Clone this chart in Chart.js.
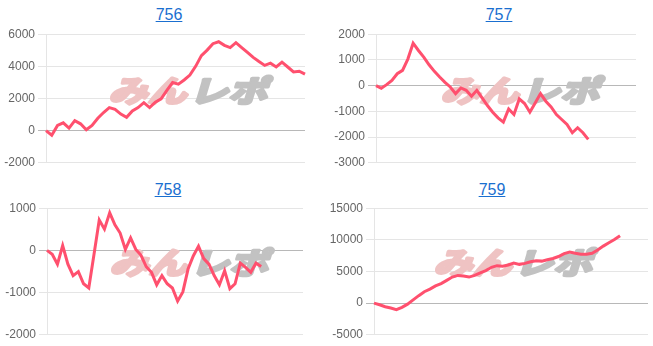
<!DOCTYPE html>
<html>
<head>
<meta charset="utf-8">
<script src="https://cdn.jsdelivr.net/npm/chart.js@4/dist/chart.umd.min.js"></script>
<style>
  body { margin: 0; background: #fff; width: 653px; height: 346px; overflow: hidden; position: relative; font-family: Arial, "Liberation Sans", sans-serif; }
  .ttl { position: absolute; width: 100px; text-align: center; font-size: 16px; }
  .ttl a { color: #1a6fd0; text-decoration: underline; }
  canvas { position: absolute; }
</style>
</head>
<body>
<div class="ttl" style="left:119px; top:6px"><a href="#">756</a></div>
<div class="ttl" style="left:449px; top:6px"><a href="#">757</a></div>
<div class="ttl" style="left:118px; top:181px"><a href="#">758</a></div>
<div class="ttl" style="left:442px; top:181px"><a href="#">759</a></div>
<canvas id="c756" width="315" height="149" style="left:0px; top:24px"></canvas>
<canvas id="c757" width="316" height="149" style="left:330px; top:24px"></canvas>
<canvas id="c758" width="312" height="147" style="left:1px; top:198px"></canvas>
<canvas id="c759" width="326" height="147" style="left:327px; top:198px"></canvas>
<script>
// 差枚推移 (hidden x axis = game count)
const values756 = [0, -280, 320, 485, 160, 625, 425, 60, 320, 770, 1130, 1435, 1330, 1030, 830, 1230, 1435, 1740, 1435, 1775, 1980, 2500, 2990, 2890, 3150, 3455, 4000, 4665, 5010, 5410, 5530, 5310, 5170, 5470, 5170, 4865, 4560, 4300, 4060, 4200, 3960, 4260, 3960, 3655, 3700, 3515];
const values757 = [0, -103, 39, 206, 464, 593, 1032, 1650, 1367, 1109, 812, 555, 335, 129, -52, -310, -90, -181, -413, -181, -477, -774, -1032, -1251, -1419, -903, -1122, -516, -697, -1032, -671, -310, -606, -826, -1122, -1316, -1509, -1832, -1638, -1832, -2090];
const values758 = [0, -93, -326, 116, -326, -597, -504, -791, -891, -93, 721, 504, 891, 605, 411, 23, 295, 23, -116, -388, -519, -814, -597, -791, -891, -1202, -984, -442, -132, 101, -194, -326, -597, -814, -481, -907, -791, -302, -403, -519, -302, -380];
const values759 = [0, -258, -567, -773, -1030, -670, -155, 515, 1185, 1800, 2215, 2730, 3090, 3600, 4120, 4380, 4275, 4120, 4380, 4790, 5150, 5665, 5920, 5820, 6025, 6335, 6130, 6280, 6540, 6695, 6640, 6850, 7055, 7365, 7830, 8085, 7880, 7725, 7725, 7880, 8395, 9010, 9530, 10040, 10660];

// number of x categories per chart
const count756 = 46, count757 = 50, count758 = 50, count759 = 50;

// y tick ranges [min, max, step]
const ticks756 = [-2000, 6000, 2000];
const ticks757 = [-3000, 2000, 1000];
const ticks758 = [-2000, 1000, 1000];
const ticks759 = [-5000, 15000, 5000];

function makeLabels(n) {
  return Array.from({ length: n }, (_, i) => i + 1);
}

const watermark = {
  id: 'watermark',
  beforeDatasetsDraw(chart, args, opts) {
    const ctx = chart.ctx;
    ctx.save();
    ctx.translate(opts.x, opts.y);
    ctx.transform(1, 0, -0.3, 1, 0, 0);
    ctx.scale(1.3, 1);
    ctx.font = 'bold 30px "Noto Sans CJK JP"';
    ctx.textBaseline = 'middle';
    ctx.lineWidth = 3;
    ctx.lineJoin = 'round';
    ctx.fillStyle = ctx.strokeStyle = '#efc3c3';
    ctx.strokeText('みん', 0, 0);
    ctx.fillText('みん', 0, 0);
    const w = ctx.measureText('みん').width;
    ctx.fillStyle = ctx.strokeStyle = '#c2c2c2';
    ctx.strokeText('レポ', w + 2, 0);
    ctx.fillText('レポ', w + 2, 0);
    ctx.restore();
  }
};

function drawChart(id, values, count, ticks, yWidth, pad, wm) {
  new Chart(document.getElementById(id), {
    type: 'line',
    data: {
      labels: makeLabels(count),
      datasets: [{
        data: values,
        borderColor: 'rgb(255, 80, 110)',
        borderWidth: 3,
        pointRadius: 0,
        tension: 0,
        fill: false
      }]
    },
    options: {
      responsive: false,
      animation: false,
      devicePixelRatio: 1,
      layout: { padding: pad },
      plugins: {
        legend: { display: false },
        tooltip: { enabled: false },
        watermark: wm
      },
      scales: {
        x: { display: false },
        y: {
          min: ticks[0],
          max: ticks[1],
          afterFit: (s) => { s.width = yWidth; },
          ticks: {
            stepSize: ticks[2],
            color: '#666',
            font: { size: 12, family: 'Arial, "Liberation Sans"' },
            callback: (v) => String(v)
          },
          grid: {
            color: (c) => c.tick && c.tick.value === 0 ? 'rgba(0,0,0,0.28)' : 'rgba(0,0,0,0.1)',
            lineWidth: 1
          },
          border: { color: 'rgba(0,0,0,0.1)' }
        }
      }
    },
    plugins: [watermark]
  });
}

drawChart('c756', values756, count756, ticks756, 46, { top: 10, bottom: 8, right: 10, left: 0 }, { x: 112, y: 67 });
drawChart('c757', values757, count757, ticks757, 46, { top: 10, bottom: 8, right: 10, left: 0 }, { x: 114, y: 67 });
drawChart('c758', values758, count758, ticks758, 46, { top: 10, bottom: 8, right: 10, left: 0 }, { x: 112, y: 65 });
drawChart('c759', values759, count759, ticks759, 47, { top: 10, bottom: 8, right: 5, left: 0 }, { x: 110, y: 65 });
</script>
</body>
</html>
